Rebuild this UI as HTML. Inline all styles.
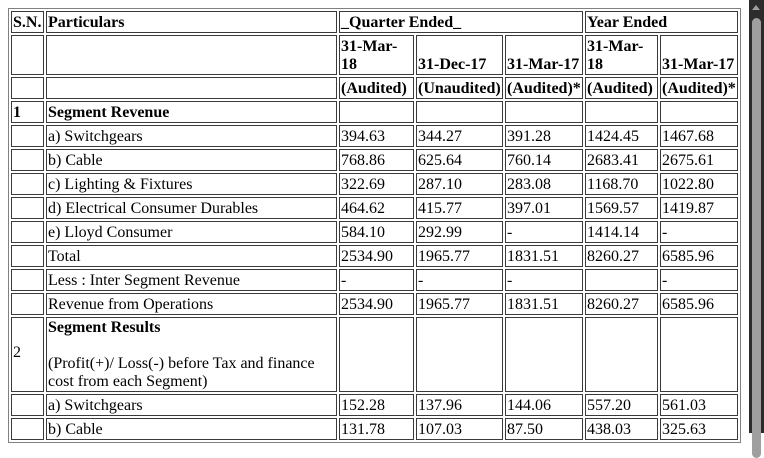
<!DOCTYPE html>
<html><head><meta charset="utf-8"><style>
html,body{margin:0;padding:0;overflow:hidden;width:764px;height:433px;background:#fff}
#page{position:absolute;left:8px;top:8px}
table{border:1px solid #808080;border-spacing:2px;table-layout:fixed;font-family:"Liberation Serif",serif;font-size:16px;color:#000;width:732px}
td{border:1px solid #3a3a3a;padding:1px 1px 0 1px;vertical-align:middle;line-height:18px;overflow:hidden}
.b{font-weight:bold}
#sb{position:absolute;left:749px;top:0;width:15px;height:433px;background:#2c2c2c}
#thumb{position:absolute;left:3px;top:18px;width:9px;height:440px;background:#9f9f9f;border-radius:5px}
.arr{position:absolute;left:3px;width:0;height:0;border-left:4.5px solid transparent;border-right:4.5px solid transparent}
</style></head><body>
<div id="page">
<table>
<colgroup><col style="width:33px"><col style="width:291px"><col style="width:75px"><col style="width:87px"><col style="width:78px"><col style="width:73px"><col style="width:78px"></colgroup>
<tr style="height:22px"><td class="b">S.N.</td><td class="b">Particulars</td><td class="b" colspan="3">_Quarter Ended_</td><td class="b" colspan="2">Year Ended</td></tr>
<tr style="height:40px"><td></td><td></td><td class="b" style="vertical-align:bottom">31-Mar-18</td><td class="b" style="vertical-align:bottom">31-Dec-17</td><td class="b" style="vertical-align:bottom">31-Mar-17</td><td class="b" style="vertical-align:bottom">31-Mar-18</td><td class="b" style="vertical-align:bottom">31-Mar-17</td></tr>
<tr style="height:22px"><td></td><td></td><td class="b">(Audited)</td><td class="b">(Unaudited)</td><td class="b">(Audited)*</td><td class="b">(Audited)</td><td class="b">(Audited)*</td></tr>
<tr style="height:22px"><td class="b">1</td><td class="b">Segment Revenue</td><td></td><td></td><td></td><td></td><td></td></tr>
<tr style="height:22px"><td></td><td>a) Switchgears</td><td>394.63</td><td>344.27</td><td>391.28</td><td>1424.45</td><td>1467.68</td></tr>
<tr style="height:22px"><td></td><td>b) Cable</td><td>768.86</td><td>625.64</td><td>760.14</td><td>2683.41</td><td>2675.61</td></tr>
<tr style="height:22px"><td></td><td>c) Lighting &amp; Fixtures</td><td>322.69</td><td>287.10</td><td>283.08</td><td>1168.70</td><td>1022.80</td></tr>
<tr style="height:22px"><td></td><td>d) Electrical Consumer Durables</td><td>464.62</td><td>415.77</td><td>397.01</td><td>1569.57</td><td>1419.87</td></tr>
<tr style="height:22px"><td></td><td>e) Lloyd Consumer</td><td>584.10</td><td>292.99</td><td>-</td><td>1414.14</td><td>-</td></tr>
<tr style="height:22px"><td></td><td>Total</td><td>2534.90</td><td>1965.77</td><td>1831.51</td><td>8260.27</td><td>6585.96</td></tr>
<tr style="height:22px"><td></td><td>Less : Inter Segment Revenue</td><td>-</td><td>-</td><td>-</td><td></td><td>-</td></tr>
<tr style="height:22px"><td></td><td>Revenue from Operations</td><td>2534.90</td><td>1965.77</td><td>1831.51</td><td>8260.27</td><td>6585.96</td></tr>
<tr style="height:75px"><td style="padding-top:0;padding-bottom:4px">2</td><td style="vertical-align:top;padding-top:1px;padding-bottom:0">
<span class="b">Segment Results</span><br><br>(Profit(+)/ Loss(-) before Tax and finance cost from each Segment)</td><td></td><td></td><td></td><td></td><td></td></tr>
<tr style="height:22px"><td></td><td>a) Switchgears</td><td>152.28</td><td>137.96</td><td>144.06</td><td>557.20</td><td>561.03</td></tr>
<tr style="height:22px"><td></td><td>b) Cable</td><td>131.78</td><td>107.03</td><td>87.50</td><td>438.03</td><td>325.63</td></tr>
</table>
</div>
<div id="sb">
<div class="arr" style="top:5px;border-bottom:5px solid #9f9f9f"></div>
<div id="thumb"></div>
<div class="arr" style="top:422px;border-top:5px solid #9f9f9f"></div>
</div>
</body></html>
